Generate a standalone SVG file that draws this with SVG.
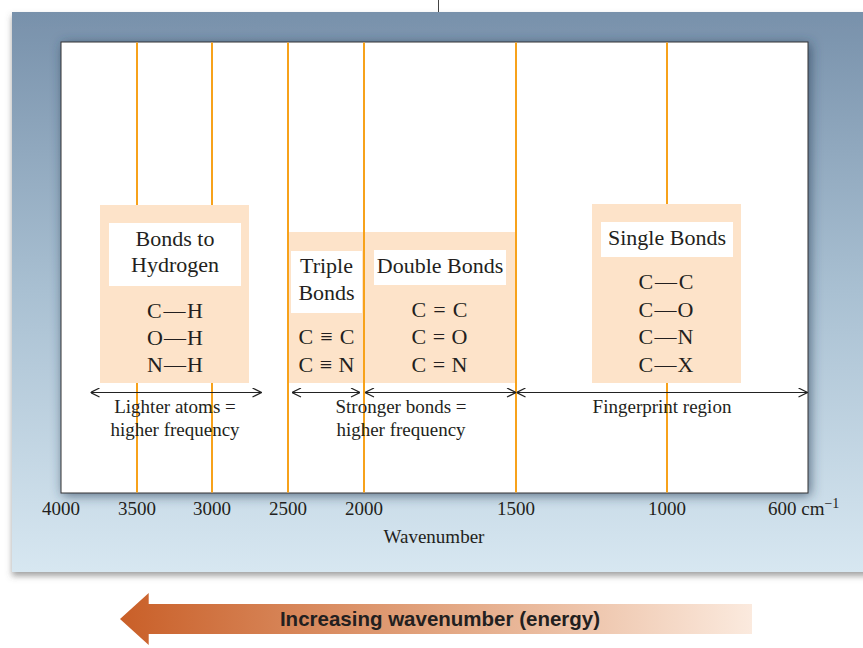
<svg xmlns="http://www.w3.org/2000/svg" width="863" height="648" viewBox="0 0 863 648">
<defs>
  <linearGradient id="panelGrad" x1="0" y1="0" x2="0" y2="1">
    <stop offset="0" stop-color="#7891ab"/>
    <stop offset="0.5" stop-color="#a9c0d2"/>
    <stop offset="1" stop-color="#d7e7f1"/>
  </linearGradient>
  <linearGradient id="arrowGrad" x1="120" y1="0" x2="752" y2="0" gradientUnits="userSpaceOnUse">
    <stop offset="0" stop-color="#c95f28"/>
    <stop offset="0.5" stop-color="#e2a47f"/>
    <stop offset="1" stop-color="#fbeade"/>
  </linearGradient>
  <filter id="panelShadow" x="-5%" y="-5%" width="110%" height="115%">
    <feDropShadow dx="0" dy="4" stdDeviation="3" flood-color="#555" flood-opacity="0.55"/>
  </filter>
  <filter id="plotShadow" x="-5%" y="-5%" width="110%" height="110%">
    <feDropShadow dx="2" dy="2" stdDeviation="6" flood-color="#2c4158" flood-opacity="0.7"/>
  </filter>
  <marker id="chev" viewBox="0 0 10 10" refX="10" refY="5" markerWidth="10" markerHeight="10" markerUnits="userSpaceOnUse" orient="auto-start-reverse">
    <path d="M1,0.5 L10,5 L1,9.5" fill="none" stroke="#222" stroke-width="1.2"/>
  </marker>
  <style>
    .serif { font-family: "Liberation Serif", "Times New Roman", serif; fill: #231f20; }
    .title { font-size: 22px; text-anchor: middle; }
    .formula { font-size: 22px; text-anchor: middle; }
    .lbl { font-size: 19px; text-anchor: middle; }
    .axis { font-size: 19px; text-anchor: middle; }
    .peach { fill: #fde3c9; }
    .white { fill: #ffffff; }
    .oline { stroke: #f7a21b; stroke-width: 2; }
    .dim { stroke: #222; stroke-width: 1.2; fill: none; marker-start: url(#chev); marker-end: url(#chev); }
  </style>
</defs>

<rect x="0" y="0" width="863" height="648" fill="#ffffff"/>
<line x1="438.5" y1="0" x2="438.5" y2="12" stroke="#444" stroke-width="1"/>
<rect x="12" y="12" width="870" height="560" fill="url(#panelGrad)" filter="url(#panelShadow)"/>

<g id="plot">
  <rect x="61" y="42" width="747" height="451" fill="#ffffff" stroke="#333" stroke-width="1" filter="url(#plotShadow)"/>
  <g id="gridlines">
    <line class="oline" x1="137" y1="42.5" x2="137" y2="492.5"/>
    <line class="oline" x1="212" y1="42.5" x2="212" y2="492.5"/>
    <line class="oline" x1="288" y1="42.5" x2="288" y2="492.5"/>
    <line class="oline" x1="364" y1="42.5" x2="364" y2="492.5"/>
    <line class="oline" x1="516" y1="42.5" x2="516" y2="492.5"/>
    <line class="oline" x1="667" y1="42.5" x2="667" y2="492.5"/>
  </g>
</g>

<g id="box-hydrogen">
  <rect class="peach" x="100" y="205" width="149" height="178"/>
  <rect class="white" x="109" y="223" width="132" height="63"/>
  <text class="serif title" x="175" y="246">Bonds to</text>
  <text class="serif title" x="175" y="272">Hydrogen</text>
  <text class="serif formula" x="175" y="318" textLength="56" lengthAdjust="spacing">C—H</text>
  <text class="serif formula" x="175" y="345" textLength="56" lengthAdjust="spacing">O—H</text>
  <text class="serif formula" x="175" y="372" textLength="56" lengthAdjust="spacing">N—H</text>
</g>

<g id="box-triple">
  <rect class="peach" x="289" y="232" width="74" height="151"/>
  <rect class="white" x="291" y="251" width="71" height="62"/>
  <text class="serif title" x="326.5" y="273">Triple</text>
  <text class="serif title" x="326.5" y="300">Bonds</text>
  <text class="serif formula" x="326.5" y="344" textLength="56" lengthAdjust="spacing">C≡C</text>
  <text class="serif formula" x="326.5" y="372" textLength="56" lengthAdjust="spacing">C≡N</text>
</g>

<g id="box-double">
  <rect class="peach" x="365" y="232" width="150" height="151"/>
  <rect class="white" x="374" y="250" width="132" height="35"/>
  <text class="serif title" x="440" y="273">Double Bonds</text>
  <text class="serif formula" x="439.5" y="317" textLength="56" lengthAdjust="spacing">C=C</text>
  <text class="serif formula" x="439.5" y="344" textLength="56" lengthAdjust="spacing">C=O</text>
  <text class="serif formula" x="439.5" y="372" textLength="56" lengthAdjust="spacing">C=N</text>
</g>

<g id="box-single">
  <rect class="peach" x="592" y="204" width="149" height="179"/>
  <rect class="white" x="601" y="222" width="132" height="35"/>
  <text class="serif title" x="667" y="245">Single Bonds</text>
  <text class="serif formula" x="666" y="289" textLength="55" lengthAdjust="spacing">C—C</text>
  <text class="serif formula" x="666" y="317" textLength="55" lengthAdjust="spacing">C—O</text>
  <text class="serif formula" x="666" y="344" textLength="55" lengthAdjust="spacing">C—N</text>
  <text class="serif formula" x="666" y="372" textLength="55" lengthAdjust="spacing">C—X</text>
</g>

<g id="connectors">
  <line class="dim" x1="90.5" y1="392.5" x2="261.5" y2="392.5"/>
  <line class="dim" x1="292" y1="392.5" x2="360" y2="392.5"/>
  <line class="dim" x1="365" y1="392.5" x2="516" y2="392.5"/>
  <line class="dim" x1="516.5" y1="392.5" x2="807.5" y2="392.5"/>
</g>

<g id="region-labels">
  <text class="serif lbl" x="175" y="413">Lighter atoms =</text>
  <text class="serif lbl" x="175" y="436">higher frequency</text>
  <text class="serif lbl" x="401" y="413">Stronger bonds =</text>
  <text class="serif lbl" x="401" y="436">higher frequency</text>
  <text class="serif lbl" x="662" y="413">Fingerprint region</text>
</g>

<g id="axis">
  <text class="serif axis" x="61" y="515">4000</text>
  <text class="serif axis" x="137" y="515">3500</text>
  <text class="serif axis" x="212" y="515">3000</text>
  <text class="serif axis" x="288" y="515">2500</text>
  <text class="serif axis" x="364" y="515">2000</text>
  <text class="serif axis" x="516" y="515">1500</text>
  <text class="serif axis" x="667" y="515">1000</text>
  <text class="serif" x="768" y="515" font-size="19">600 cm<tspan font-size="14" dy="-7">−1</tspan></text>
  <text class="serif axis" x="434" y="543">Wavenumber</text>
</g>

<g id="energy-arrow">
  <polygon points="120,619 148.7,593 148.7,604 752,604 752,634 148.7,634 148.7,645" fill="url(#arrowGrad)"/>
  <text x="440" y="626" text-anchor="middle" font-family="Liberation Sans, Arial, sans-serif" font-weight="bold" font-size="20.5" fill="#231f20">Increasing wavenumber (energy)</text>
</g>
</svg>
